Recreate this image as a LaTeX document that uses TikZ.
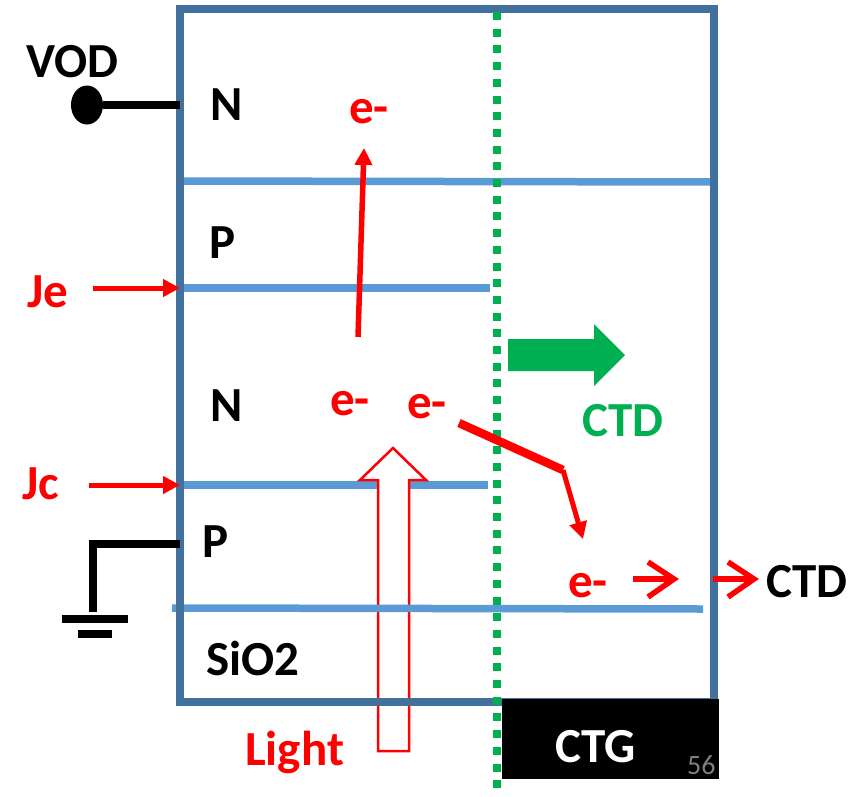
\documentclass[tikz,border=0pt]{standalone}
\usepackage{fontspec}
\setmainfont{Carlito}
\usetikzlibrary{arrows.meta,shapes.geometric}
\definecolor{boxblue}{HTML}{41719C}
\definecolor{lineblue}{HTML}{5B9BD5}
\definecolor{pgreen}{HTML}{00B050}
\definecolor{pred}{HTML}{FF0000}
\definecolor{pgray}{HTML}{7F7F7F}
\tikzset{
  lbl/.style={inner sep=0pt, anchor=base west, font=\fontsize{49}{52}\selectfont\bfseries},
  layer/.style={draw=lineblue, line width=7.5pt},
  redarrow/.style={draw=pred, line width=5pt, -{Triangle[length=17pt,width=17pt]}},
  chevron/.style={draw=pred, line width=5.5pt, line join=miter},
}
\begin{document}
\begin{tikzpicture}[x=1pt,y=-1pt]
\useasboundingbox (0,0) rectangle (862,796);
% layer lines
\draw[layer] (183,181) -- (713,182);
\draw[layer] (178,288) -- (490,288);
\draw[layer] (184,485) -- (488,485);
% light arrow
\draw[draw=pred, line width=2.5pt, fill=white, line join=miter]
  (378,751) -- (378,480) -- (360,480) -- (393,448) -- (426,480) -- (409,480) -- (409,751) -- cycle;
\draw[layer] (172,608) -- (703,609);
% device box
\draw[draw=boxblue, line width=7.5pt] (180,9) rectangle (714,702);
% dotted boundary
\coordinate (dtop) at (497,12);
\coordinate (dbot) at (497,800);
\draw[pgreen, line width=8pt, dash pattern=on 8pt off 8.7pt] (dtop) -- (dbot);
% CTG block
\fill[black] (502,699) rectangle (719,779);
% VOD contact
\node[fill=black, ellipse, minimum width=32pt, minimum height=39pt, inner sep=0pt] (vodc) at (87,105) {};
\coordinate (vodw) at (180,105);
\draw[line width=8pt] (vodc) -- (vodw);
% ground
\coordinate (g1) at (180,544);
\coordinate (g2) at (93,544);
\coordinate (g3) at (93,612);
\draw[line width=8pt] (g1) -- (g2) -- (g3);
\coordinate (b1l) at (62,619); \coordinate (b1r) at (128,619);
\coordinate (b2l) at (78,634); \coordinate (b2r) at (112,634);
\draw[line width=8pt] (b1l) -- (b1r);
\draw[line width=8pt] (b2l) -- (b2r);
% green block arrow
\fill[pgreen] (508,339) -- (594,339) -- (594,324) -- (625,355) -- (594,386) -- (594,371) -- (508,371) -- cycle;
% labels
\node[lbl] (vod) at (26,77) {VOD};
\node[lbl] (n1) at (210,120) {N};
\node[lbl, text=pred] (e1) at (349,123) {e-};
\node[lbl] (p1) at (209,258) {P};
\node[lbl, text=pred] (je) at (27,307) {Je};
\node[lbl] (n2) at (210,421) {N};
\node[lbl, text=pred] (e2) at (330,415) {e-};
\node[lbl, text=pred] (e3) at (407,418) {e-};
\node[lbl, text=pred] (jc) at (22,499) {Jc};
\node[lbl] (p2) at (202,557) {P};
\node[lbl] (sio) at (206,675) {SiO2};
\node[lbl, text=pred] (light) at (245,765) {Light};
\node[lbl, text=white] (ctg) at (555,762) {CTG};
\node[inner sep=0pt, anchor=base west, font=\fontsize{28}{30}\selectfont, text=pgray] (pg) at (687,774) {56};
\node[lbl, text=pred] (e4) at (568,597) {e-};
\node[lbl, text=pgreen] (ctdg) at (582,436) {CTD};
\node[lbl] (ctdb) at (766,597) {CTD};
% Je / Jc arrows
\coordinate (jes) at (93,288); \coordinate (jee) at (180,288);
\draw[redarrow] (jes) -- (jee);
\coordinate (jcs) at (89,485); \coordinate (jce) at (180,485);
\draw[redarrow] (jcs) -- (jce);
% vertical electron arrow
\coordinate (vs) at (358,337); \coordinate (ve) at (364,148);
\draw[redarrow, line width=5.5pt] (vs) -- (ve);
% bent electron arrow
\coordinate (bs) at (459,423); \coordinate (bc) at (563,470); \coordinate (be) at (583,539);
\draw[pred, line width=8.5pt] (bs) -- (bc);
\draw[redarrow] (bc) -- (be);
% small chevron arrows
\coordinate (a1s) at (633,579); \coordinate (a1e) at (671,579);
\coordinate (a1t) at (648,562); \coordinate (a1p) at (674,579); \coordinate (a1b) at (648,597);
\draw[chevron] (a1s) -- (a1e);
\draw[chevron] (a1t) -- (a1p) -- (a1b);
\coordinate (a2s) at (713,579); \coordinate (a2e) at (751,579);
\coordinate (a2t) at (728,562); \coordinate (a2p) at (754,579); \coordinate (a2b) at (728,597);
\draw[chevron] (a2s) -- (a2e);
\draw[chevron] (a2t) -- (a2p) -- (a2b);
\end{tikzpicture}
\end{document}
